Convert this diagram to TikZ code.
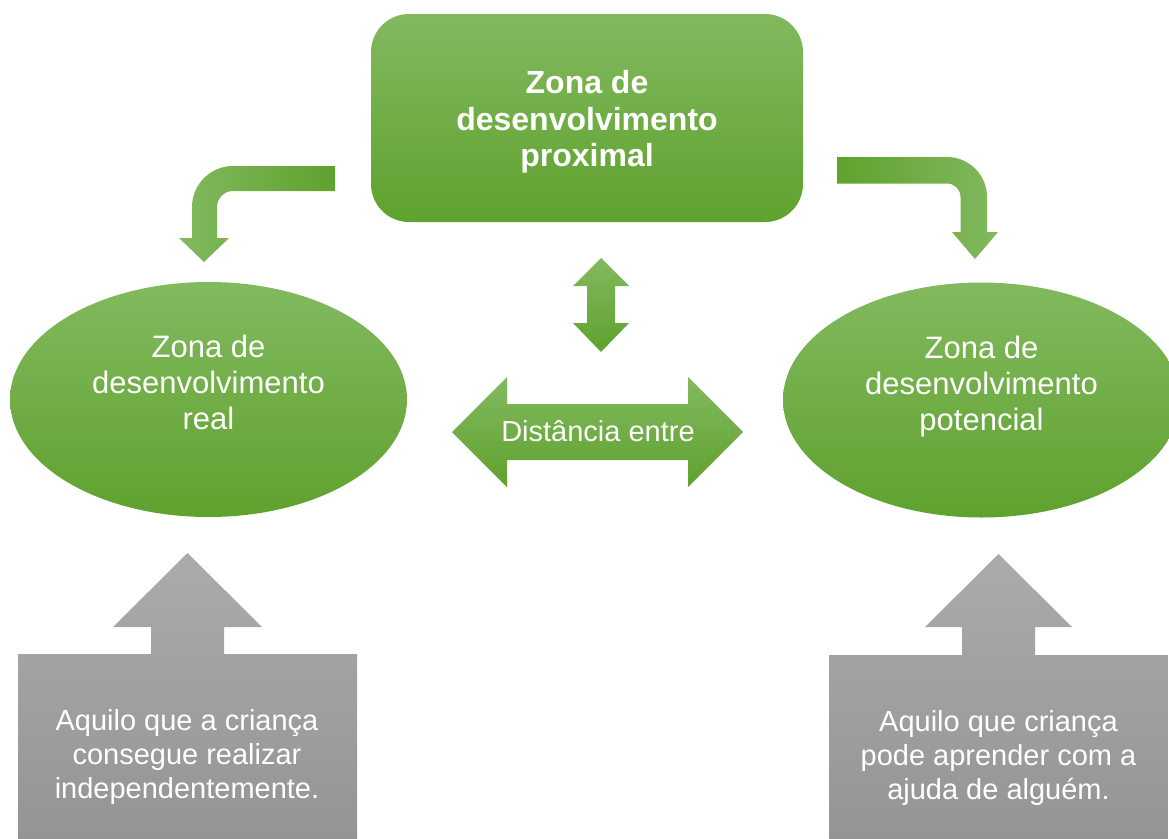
\documentclass[tikz,border=0pt]{standalone}
\usepackage{fontspec}
\setmainfont{Liberation Sans}
\usetikzlibrary{shapes.geometric}
\definecolor{greentop}{HTML}{82B95F}
\definecolor{greenbot}{HTML}{5FA22E}
\definecolor{graytop}{HTML}{ABABAB}
\definecolor{graybot}{HTML}{949494}

\begin{document}
\begin{tikzpicture}[x=1pt, y=-1pt,
    zone/.style ={ellipse, top color=greentop, bottom color=greenbot, inner sep=0pt, minimum width=397pt, minimum height=235pt},
    zonetext/.style ={text=white, align=center, font=\fontsize{31}{36}\selectfont},
    graytext/.style ={text=white, align=center, font=\fontsize{29}{34}\selectfont}]
   \useasboundingbox (0,0) rectangle (1169,838);
   % top box
   \node[rounded corners=38pt, minimum width=432pt, minimum height=208pt, top color=greentop, bottom color=greenbot] (proximal) at (587,118) {};
   \node[text=white, align=center, font=\bfseries\fontsize{32}{36.5}\selectfont] (proximaltext) at (587,122) {Zona de\\desenvolvimento\\proximal};
   % the two zones
   \node[zone] (real) at (208.5,399.5) {};
   \node[zonetext] (realtext) at (208.5,382) {Zona de\\desenvolvimento\\real};
   \node[zone] (potencial) at (981.5,400) {};
   \node[zonetext] (potencialtext) at (981.5,386) {Zona de\\desenvolvimento\\potencial};
   % bent arrows
   \shade[left color=greentop, right color=greenbot] (335,166) -- (233,166) .. controls (210.4,166) and (192,184.4) .. (192,207) -- (192,238) -- (179,238) -- (204,262) -- (229,238) -- (217,238) -- (217,207) .. controls (217,198.2) and (224.2,191) .. (233,191) -- (335,191) -- cycle;
   \shade[left color=greenbot, right color=greentop] (837,157) -- (947,157) .. controls (969.1,157) and (987,174.9) .. (987,197) -- (987,232) -- (998,232) -- (975,259) -- (952,232) -- (960.5,232) -- (960.5,197) .. controls (960.5,189.55) and (954.45,183.5) .. (947,183.5) -- (837,183.5) -- cycle;
   % double arrows
   \shade[top color=greentop, bottom color=greenbot] (601,258) -- (629,286) -- (615,286) -- (615,323) -- (629,323) -- (601,352) -- (573,323) -- (587,323) -- (587,286) -- (573,286) -- cycle;
   \shade[top color=greentop, bottom color=greenbot] (452,432) -- (507,377) -- (507,404) -- (688,404) -- (688,377) -- (743,432) -- (688,487) -- (688,460) -- (507,460) -- (507,487) -- cycle;
   \node[text=white, font=\fontsize{29}{34}\selectfont] (distancia) at (598,431.5) {Distância entre};
   % gray arrow boxes
   \shade[top color=graytop, bottom color=graybot] (18,654) -- (151,654) -- (151,627) -- (113,627) -- (187.5,553) -- (262,627) -- (224,627) -- (224,654) -- (357,654) -- (357,842) -- (18,842) -- cycle;
   \node[graytext] (realbox) at (187,757) {Aquilo que a criança\\consegue realizar\\independentemente.};
   \shade[top color=graytop, bottom color=graybot] (829,655) -- (962,655) -- (962,627) -- (925,627) -- (998.5,554) -- (1072,627) -- (1035,627) -- (1035,655) -- (1168,655) -- (1168,842) -- (829,842) -- cycle;
   \node[graytext] (potencialbox) at (998.5,758) {Aquilo que criança\\pode aprender com a\\ajuda de alguém.};
 \end{tikzpicture}
\end{document}
